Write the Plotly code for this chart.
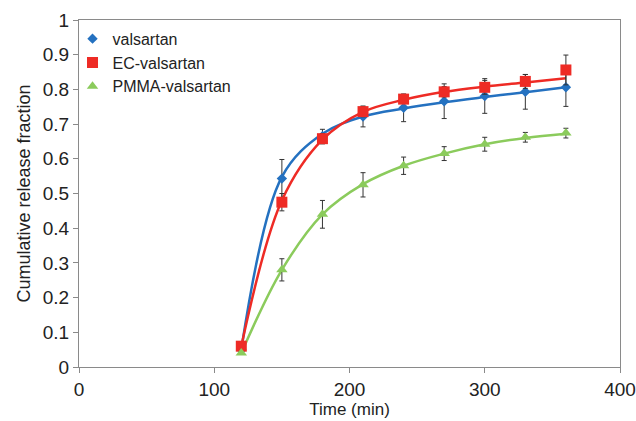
import plotly.graph_objects as go

time = [120, 150, 180, 210, 240, 270, 300, 330, 360]

valsartan = [0.05, 0.543, 0.665, 0.722, 0.747, 0.766, 0.781, 0.793, 0.806]
valsartan_err = [0.0, 0.055, 0.02, 0.03, 0.04, 0.05, 0.05, 0.05, 0.055]
valsartan_fit = [0.05, 0.548, 0.672, 0.722, 0.745, 0.763, 0.778, 0.792, 0.806]

ec = [0.06, 0.475, 0.658, 0.736, 0.772, 0.793, 0.806, 0.823, 0.856]
ec_err = [0.0, 0.025, 0.015, 0.015, 0.01, 0.015, 0.02, 0.02, 0.043]
ec_fit = [0.06, 0.48, 0.655, 0.735, 0.77, 0.793, 0.808, 0.82, 0.832]

pmma = [0.04, 0.28, 0.44, 0.525, 0.58, 0.615, 0.642, 0.662, 0.674]
pmma_err = [0.0, 0.032, 0.04, 0.035, 0.025, 0.02, 0.02, 0.014, 0.014]
pmma_fit = [0.04, 0.28, 0.44, 0.527, 0.58, 0.615, 0.642, 0.66, 0.672]

names = ["valsartan", "EC-valsartan", "PMMA-valsartan"]
colors = ["#2471C0", "#EE2B25", "#8BCB5C"]
symbols = ["diamond", "square", "triangle-up"]
sizes = [8, 11, 10]
series = [valsartan, ec, pmma]
errs = [valsartan_err, ec_err, pmma_err]
fits = [valsartan_fit, ec_fit, pmma_fit]

FONT = "Liberation Sans, Arial"

fig = go.Figure()
for n, c, f in zip(names, colors, fits):
    fig.add_trace(go.Scatter(x=time, y=f, mode="lines", line=dict(color=c, width=2.5, shape="spline", smoothing=1.0),
                             showlegend=False, hoverinfo="skip"))
for n, c, s, sz, y, e in zip(names, colors, symbols, sizes, series, errs):
    fig.add_trace(go.Scatter(x=time, y=y, mode="markers", name=n,
                             marker=dict(color=c, symbol=s, size=sz),
                             error_y=dict(type="data", array=e, visible=True, color="#333333", thickness=1, width=2.5)))

axis_common = dict(showline=True, linecolor="#8a8a8a", linewidth=1.2, mirror=True, showgrid=False, zeroline=False,
                   ticks="outside", ticklen=5, tickcolor="#8a8a8a", automargin=False,
                   tickfont=dict(family=FONT, size=19, color="#222222"))
fig.update_xaxes(range=[0, 400], dtick=100,
                 title=dict(text="Time (min)", font=dict(family=FONT, size=17, color="#222222"), standoff=3),
                 **axis_common)
fig.update_yaxes(range=[0, 1], dtick=0.1, tickformat="~g",
                 title=dict(text="Cumulative release fraction", font=dict(family=FONT, size=18, color="#222222"), standoff=7),
                 **axis_common)

fig.update_layout(
    width=636, height=421,
    margin=dict(l=79, r=16, t=20, b=54),
    plot_bgcolor="white", paper_bgcolor="white",
    legend=dict(x=-0.012, y=0.995, xanchor="left", yanchor="top", bgcolor="rgba(0,0,0,0)",
                font=dict(family=FONT, size=16, color="#222222"),
                itemwidth=30, tracegroupgap=0),
)
# remove the default page margin so the figure fills the 636x421 window exactly
fig.write_html("out.html", config={"displayModeBar": False},
               post_script="document.body.style.margin='0';document.body.style.overflow='hidden';")
